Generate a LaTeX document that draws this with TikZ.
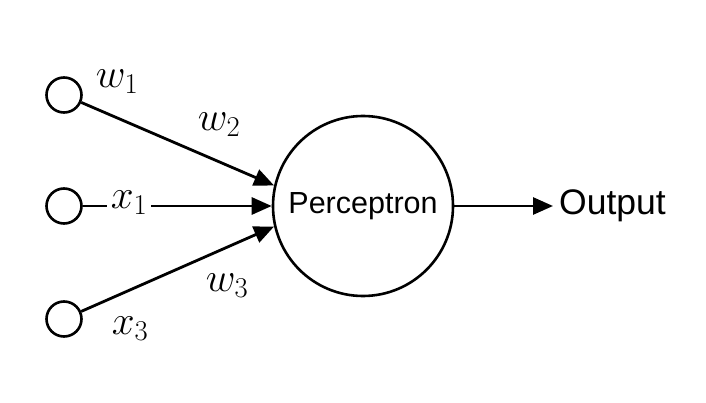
\RequirePackage{fix-cm}
\documentclass[tikz,border=0pt]{standalone}
\usepackage{fontspec}
\newfontfamily\labfont{Liberation Sans}
\usetikzlibrary{arrows.meta}
\begin{document}
\begin{tikzpicture}[x=1pt,y=-1pt,
  inp/.style={draw,circle,line width=2.6pt,minimum size=35pt,inner sep=0pt},
  neuron/.style={draw,circle,line width=2.6pt,minimum size=180pt,inner sep=0pt,
    font=\labfont\fontsize{30.5}{36}\selectfont},
  arr/.style={line width=2.8pt,-{Triangle[length=20pt,width=17pt]}},
  wlab/.style={inner sep=0pt,font=\fontsize{41}{48}\selectfont},
  outlab/.style={inner sep=6pt,anchor=west,font=\labfont\fontsize{35.5}{40}\selectfont}]
\useasboundingbox (0,0) rectangle (706,403);
\node[inp] (i1) at (64,95) {};
\node[inp] (i2) at (64,206) {};
\node[inp] (i3) at (64,319) {};
\node[neuron] (P) at (363,206) {Perceptron};
\node[outlab] (out) at (553,206) {Output};
\draw[arr] (i1) -- (P.167);
\draw[arr] (i2) -- (P.west);
\draw[arr] (i3) -- (P.193);
\draw[arr] (P.east) -- (out.west);
\node[wlab] (w1) at (117,82) {$w_1$};
\node[wlab] (w2) at (219,125) {$w_2$};
\node[wlab,fill=white,inner sep=4pt] (x1) at (129,203) {$x_1$};
\node[wlab] (w3) at (227,286) {$w_3$};
\node[wlab] (x3) at (130,329) {$x_3$};
\end{tikzpicture}
\end{document}
